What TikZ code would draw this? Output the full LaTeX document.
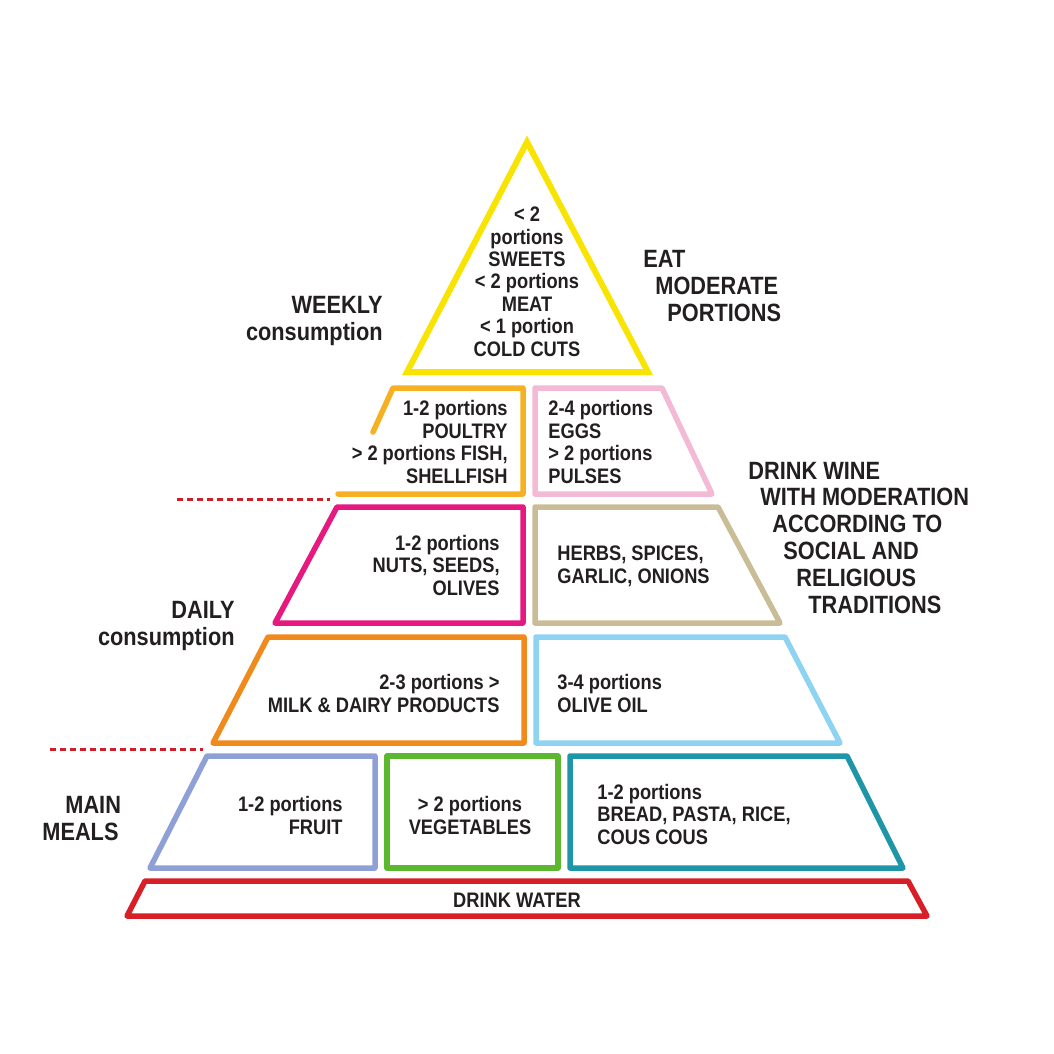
\documentclass[tikz,border=0pt]{standalone}
\usepackage{fontspec}
\newfontfamily\cond{Liberation Sans}[FakeStretch=0.87]
\definecolor{ink}{HTML}{231F20}
\definecolor{cyellow}{HTML}{F9E300}
\definecolor{camber}{HTML}{F6B122}
\definecolor{cpink}{HTML}{F3BAD6}
\definecolor{cmagenta}{HTML}{E5197E}
\definecolor{ctan}{HTML}{C9BD97}
\definecolor{corange}{HTML}{F18A1D}
\definecolor{clblue}{HTML}{8FD3F3}
\definecolor{cviolet}{HTML}{8FA0D7}
\definecolor{cgreen}{HTML}{5BB82F}
\definecolor{cteal}{HTML}{1F95A8}
\definecolor{cred}{HTML}{D71F28}
\definecolor{dashred}{HTML}{CC1F27}
\tikzset{
  body/.style={font=\fontsize{10.5}{11.2}\selectfont\cond\bfseries, inner sep=0pt, text=ink},
  side/.style={font=\fontsize{12.5}{13.4}\selectfont\cond\bfseries, inner sep=0pt, text=ink},
  tier/.style={line width=2.75pt, line join=round, line cap=round},
  guide/.style={draw=dashred, line width=1.5pt, dash pattern=on 3pt off 2pt},
}
\begin{document}
\begin{tikzpicture}[x=0.5pt,y=-0.5pt]
\useasboundingbox (0,0) rectangle (1054,1054);
% tiers
\draw[tier, cyellow, line width=3pt, line join=miter] (527,142) -- (648,372) -- (407,372) -- cycle;
\draw[tier, camber] (373,432) -- (393,388) -- (523,388) -- (523,494) -- (338,494);
\draw[tier, cpink] (535,388) -- (662,388) -- (712,494) -- (535,494) -- cycle;
\draw[tier, cmagenta] (337,507) -- (523,507) -- (523,623) -- (275,623) -- cycle;
\draw[tier, ctan] (535,507) -- (718,507) -- (780,623) -- (535,623) -- cycle;
\draw[tier, corange] (268,637) -- (524,637) -- (524,743) -- (213,743) -- cycle;
\draw[tier, clblue] (536,637) -- (785,637) -- (840,743) -- (536,743) -- cycle;
\draw[tier, cviolet] (207,756) -- (375,756) -- (375,868) -- (150,868) -- cycle;
\draw[tier, cgreen] (387,756) -- (558,756) -- (558,868) -- (387,868) -- cycle;
\draw[tier, cteal] (570,756) -- (847,756) -- (903,868) -- (570,868) -- cycle;
\draw[tier, cred] (145,881) -- (908,881) -- (927,916) -- (127,916) -- cycle;
% dashed guides
\coordinate (g1a) at (177,499);
\coordinate (g1b) at (330,499);
\coordinate (g2a) at (50,749);
\coordinate (g2b) at (203,749);
\draw[guide] (g1a) -- (g1b);
\draw[guide] (g2a) -- (g2b);
% texts in tiers (anchor = baseline of last line)
\node[body, align=center, anchor=base] (top) at (527,356)
  {< 2\\portions\\SWEETS\\< 2 portions\\MEAT\\< 1 portion\\COLD CUTS};
\node[body, align=right, anchor=base east] (poultry) at (508,483)
  {1-2 portions\\POULTRY\\> 2 portions FISH,\\SHELLFISH};
\node[body, align=left, anchor=base west] (eggs) at (548,483)
  {2-4 portions\\EGGS\\> 2 portions\\PULSES};
\node[body, align=right, anchor=base east] (nuts) at (500,595)
  {1-2 portions\\NUTS, SEEDS,\\OLIVES};
\node[body, align=left, anchor=base west] (herbs) at (557,583)
  {HERBS, SPICES,\\GARLIC, ONIONS};
\node[body, align=right, anchor=base east] (milk) at (500,712)
  {2-3 portions >\\MILK \& DAIRY PRODUCTS};
\node[body, align=left, anchor=base west] (oil) at (557,712)
  {3-4 portions\\OLIVE OIL};
\node[body, align=right, anchor=base east] (fruit) at (343,834)
  {1-2 portions\\FRUIT};
\node[body, align=center, anchor=base] (veg) at (470,834)
  {> 2 portions\\VEGETABLES};
\node[body, align=left, anchor=base west] (bread) at (597,844)
  {1-2 portions\\BREAD, PASTA, RICE,\\COUS COUS};
\node[body, anchor=base] (water) at (517,907) {DRINK WATER};
% side labels
\node[side, align=right, anchor=base east] (weekly) at (383,340)
  {WEEKLY\\consumption};
\node[side, align=left, anchor=base west] (eat) at (643,321)
  {EAT\\\hspace*{6pt}MODERATE\\\hspace*{12pt}PORTIONS};
\node[side, align=left, anchor=base west] (wine) at (748,613)
  {DRINK WINE\\\hspace*{6pt}WITH MODERATION\\\hspace*{12pt}ACCORDING TO\\\hspace*{17.5pt}SOCIAL AND\\\hspace*{24pt}RELIGIOUS\\\hspace*{30pt}TRADITIONS};
\node[side, align=right, anchor=base east] (daily) at (235,645)
  {DAILY\\consumption};
\node[side, align=left, anchor=base west] (meals) at (42,840)
  {\hspace*{11.5pt}MAIN\\MEALS};
\end{tikzpicture}
\end{document}
